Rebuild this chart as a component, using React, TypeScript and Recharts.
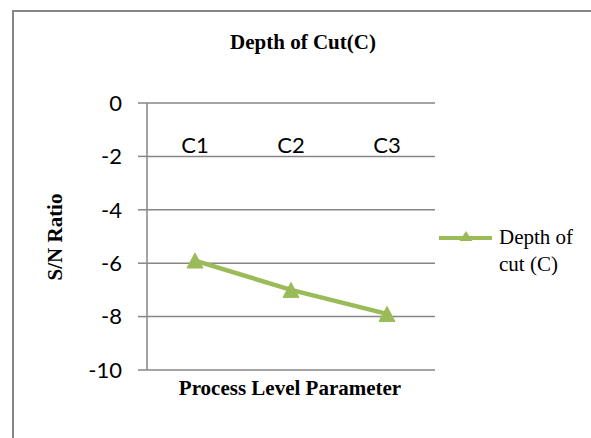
import React from "react";
import { LineChart, Line, XAxis, YAxis, CartesianGrid } from "recharts";

// Depth of cut levels and their S/N ratios
const levels = ["C1", "C2", "C3"];
const snRatio = [-5.9, -7.0, -7.9];
const yTicks = [0, -2, -4, -6, -8, -10];

const seriesName = "Depth of cut (C)";
const green = "#9BBB59";
const gray = "#868686";
const serif = "'Liberation Serif', 'Times New Roman', serif";
const sans = "Lato, 'Open Sans', sans-serif";

const data = levels.map((level, i) => ({ level, value: snRatio[i] }));

const Triangle = (props: any) => {
  const { cx, cy } = props;
  if (cx == null || cy == null) return null;
  const w = 16;
  const h = 15;
  return (
    <polygon
      points={`${cx},${cy - h / 2} ${cx + w / 2},${cy + h / 2} ${cx - w / 2},${cy + h / 2}`}
      fill={green}
      stroke={green}
      strokeWidth={1}
    />
  );
};

// Category names sit just under the zero line
const CategoryTick = (props: any) => {
  const { x, payload } = props;
  return (
    <text x={x} y={153} textAnchor="middle" fontFamily={sans} fontSize={22} fill="#000">
      {payload.value}
    </text>
  );
};

const LegendBox = () => (
  <div
    style={{
      position: "absolute",
      left: 439,
      top: 224,
      display: "flex",
      alignItems: "flex-start",
      fontFamily: serif,
      fontSize: 21,
      color: "#000",
    }}
  >
    <svg width={54} height={28}>
      <line x1={0} y1={14} x2={53} y2={14} stroke={green} strokeWidth={4} />
      <polygon points="27,7 33.5,17 20.5,17" fill={green} />
    </svg>
    <div style={{ marginLeft: 6, lineHeight: "27px", marginTop: 0 }}>
      Depth of
      <br />
      cut (C)
    </div>
  </div>
);

export default function App() {
  return (
    <div style={{ position: "fixed", left: 0, top: 0, width: 591, height: 438, background: "#fff" }}>
      <div
        style={{
          position: "absolute",
          left: 12,
          top: 10,
          right: 0,
          bottom: 0,
          borderLeft: `2px solid ${gray}`,
          borderTop: `2px solid ${gray}`,
        }}
      />
      <LineChart
        width={591}
        height={438}
        data={data}
        margin={{ top: 73, right: 156, bottom: 68, left: 0 }}
        style={{ position: "absolute", left: 0, top: 0 }}
      >
        <CartesianGrid vertical={false} stroke={gray} strokeWidth={1.5} />
        <XAxis
          dataKey="level"
          orientation="top"
          height={30}
          scale="band"
          axisLine={false}
          tickLine={false}
          tick={<CategoryTick />}
          interval={0}
        />
        <YAxis
          domain={[-10, 0]}
          ticks={yTicks}
          width={147}
          tickSize={9}
          tickMargin={16}
          axisLine={{ stroke: gray, strokeWidth: 1.5 }}
          tickLine={{ stroke: gray, strokeWidth: 1.5 }}
          tick={{ fontFamily: sans, fontSize: 22, fill: "#000" }}
        />
        <Line
          type="linear"
          dataKey="value"
          name={seriesName}
          stroke={green}
          strokeWidth={4.5}
          dot={<Triangle />}
          activeDot={false}
          isAnimationActive={false}
        />
      </LineChart>
      <LegendBox />
      <div
        style={{
          position: "absolute",
          left: 203,
          width: 200,
          top: 29,
          textAlign: "center",
          fontFamily: serif,
          fontWeight: "bold",
          fontSize: 21,
          lineHeight: "26px",
        }}
      >
        Depth of Cut(C)
      </div>
      <div
        style={{
          position: "absolute",
          left: 140,
          width: 300,
          top: 375,
          textAlign: "center",
          fontFamily: serif,
          fontWeight: "bold",
          fontSize: 21,
          lineHeight: "26px",
        }}
      >
        Process Level Parameter
      </div>
      <div
        style={{
          position: "absolute",
          left: 55,
          top: 237,
          transform: "translate(-50%, -50%) rotate(-90deg)",
          whiteSpace: "nowrap",
          fontFamily: serif,
          fontWeight: "bold",
          fontSize: 21,
          lineHeight: "26px",
        }}
      >
        S/N Ratio
      </div>
    </div>
  );
}
